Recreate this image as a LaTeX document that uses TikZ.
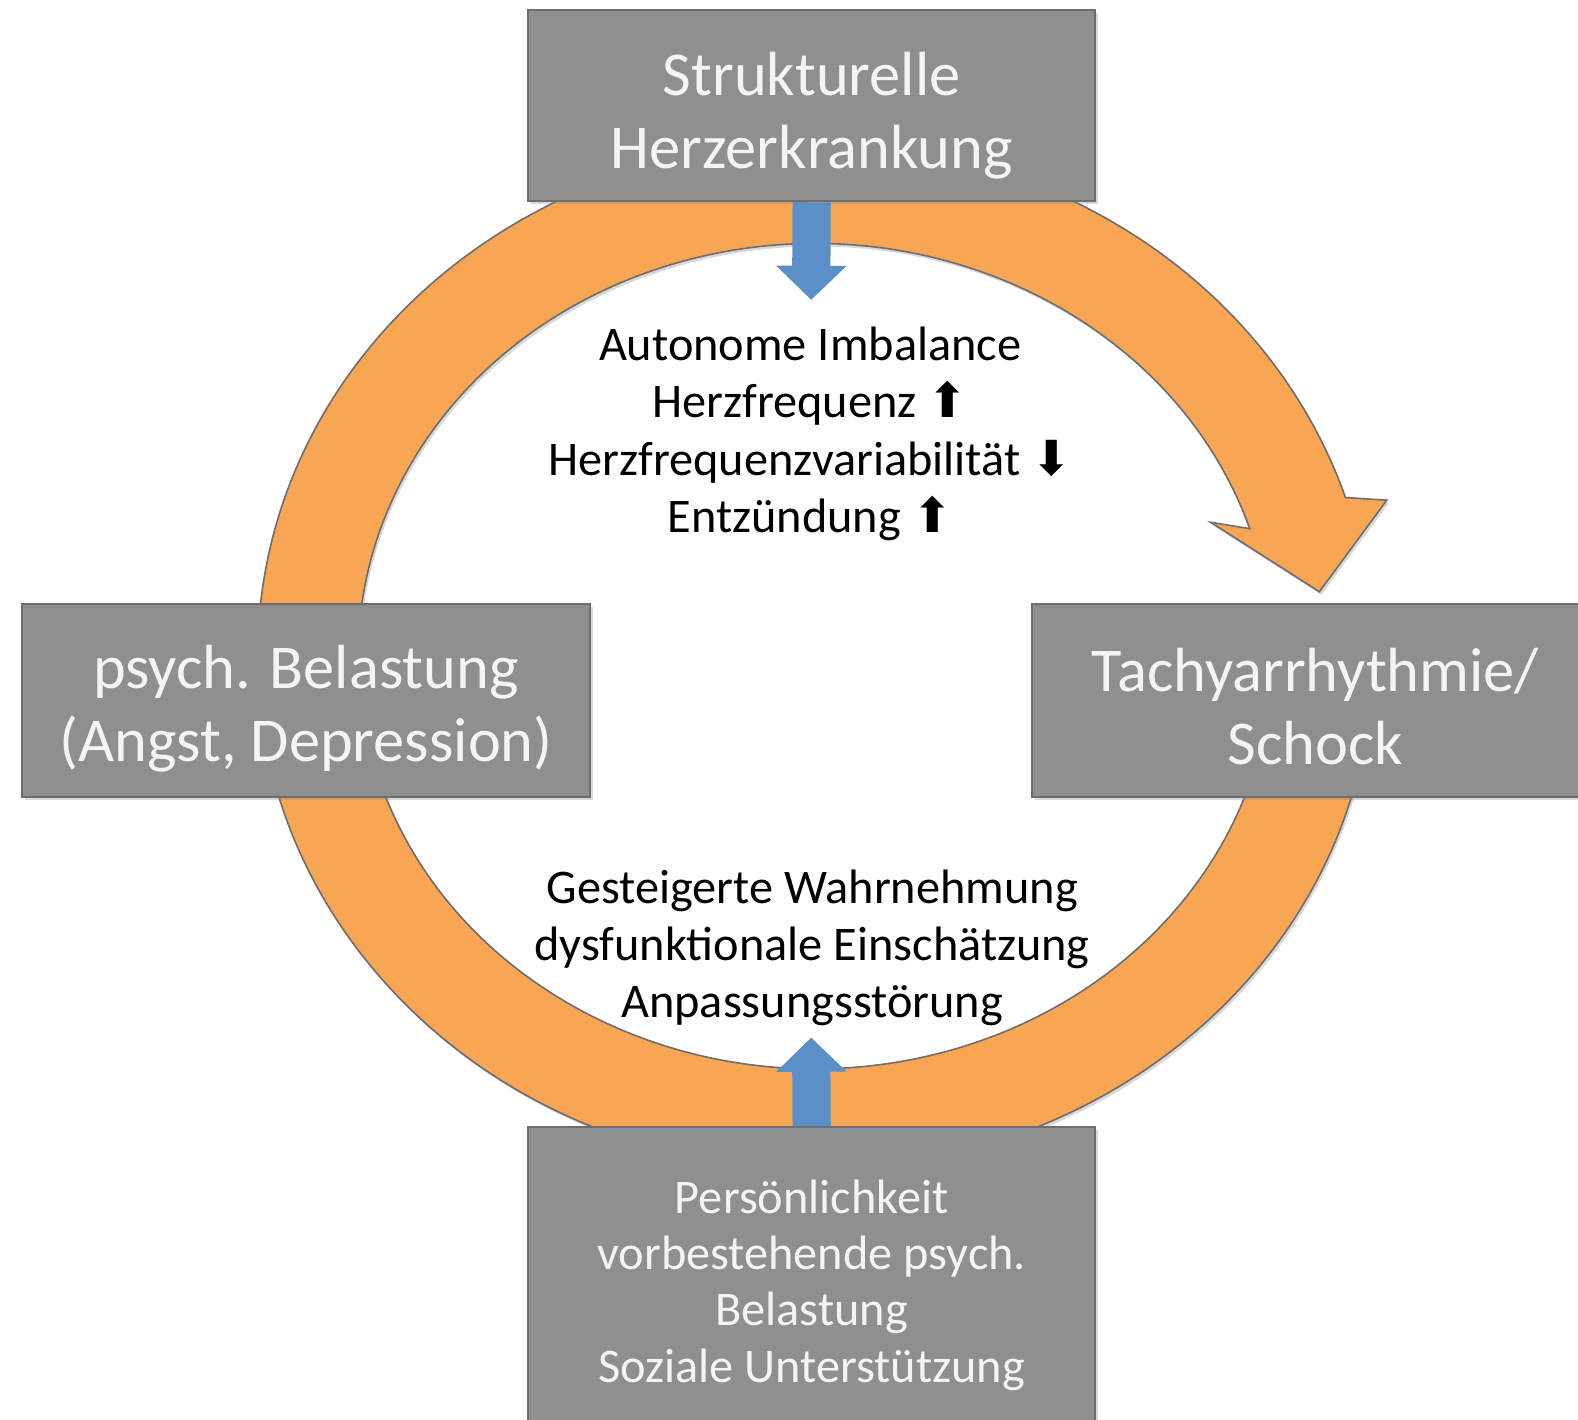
\documentclass[tikz,border=0pt]{standalone}
\usepackage{fontspec}
\setmainfont{Carlito}
\newfontfamily\arrowfont{DejaVu Sans}
\usetikzlibrary{arrows.meta,positioning,calc,shadows}
\definecolor{ringorange}{HTML}{F8A654}
\definecolor{boxgray}{HTML}{8F8F8F}
\definecolor{boxedge}{HTML}{6E6E6E}
\definecolor{boxtext}{HTML}{F4F4F4}
\definecolor{arrowblue}{HTML}{5B8FC8}
\newcommand{\up}{{\arrowfont ⬆}}
\newcommand{\down}{{\arrowfont ⬇}}

\begin{document}
\begin{tikzpicture}[
  x=0.5pt, y=-0.5pt,
  bigbox/.style={
    draw=boxedge, line width=1pt, fill=boxgray,
    inner sep=0pt, minimum width=282pt, minimum height=96pt,
    drop shadow={shadow xshift=1.5pt, shadow yshift=-1.5pt, opacity=0.3}
  },
  boxlabel/.style={
    text=boxtext, align=center, inner sep=0pt,
    font=\fontsize{31}{36}\selectfont
  },
  smalllabel/.style={boxlabel, font=\fontsize{24}{28}\selectfont},
  midtext/.style={align=center, font=\fontsize{24}{28.5}\selectfont},
  ringarrow/.style={
    fill=ringorange, draw=boxedge, line width=0.8pt,
    drop shadow={shadow xshift=1pt, shadow yshift=-1.5pt, opacity=0.3}
  },
  bluearrow/.style={
    draw=arrowblue, line width=19pt,
    -{Triangle[width=34pt, length=17pt]}
  }
]
\useasboundingbox (0,0) rectangle (1568,1411);
\fill[white] (0,0) rectangle (1568,1411);

% Cycle arrow
\coordinate (c) at (810,652);
\path[ringarrow] (c) ++(5:554 and 510)
  arc[start angle=5, end angle=342, x radius=554, y radius=510]
  -- (1378,497) -- (1311,588) -- (1203,519)
  -- ($(c)+(342:454 and 410)$)
  arc[start angle=342, end angle=5, x radius=454, y radius=410]
  -- cycle;

% Boxes
\node[bigbox, minimum height=95pt] (herz) at (806.5,105) {};
\node[bigbox] (psych) at (304,696) {};
\node[bigbox] (tachy) at (1307,696) {};
\node[bigbox, minimum height=154pt] (pers) at (806.5,1274) {};

% Box texts
\node[boxlabel] (herztext) at ([yshift=-5pt]herz.center)
  {Strukturelle\\Herzerkrankung};
\node[boxlabel] (psychtext) at ([yshift=-4pt]psych.center)
  {psych. Belastung\\(Angst, Depression)};
\node[boxlabel] (tachytext) at ([yshift=-3pt]tachy.center)
  {Tachyarrhythmie/\\Schock};
\node[smalllabel] (perstext) at ([yshift=-1.5pt]pers.center)
  {Persönlichkeit\\vorbestehende psych.\\Belastung\\Soziale Unterstützung};

% Inner texts
\node[midtext] (auton) at (805,431)
  {Autonome Imbalance\\Herzfrequenz \up\\
   Herzfrequenzvariabilität \down\\Entzündung \up};
\node[midtext] (wahrn) at (807,942)
  {Gesteigerte Wahrnehmung\\dysfunktionale Einschätzung\\Anpassungsstörung};

% Blue arrows
\coordinate (toptip) at (806,298);
\coordinate (bottip) at (806,1031);
\draw[bluearrow] (herz.south) -- (toptip);
\draw[bluearrow] (pers.north) -- (bottip);

\end{tikzpicture}
\end{document}
